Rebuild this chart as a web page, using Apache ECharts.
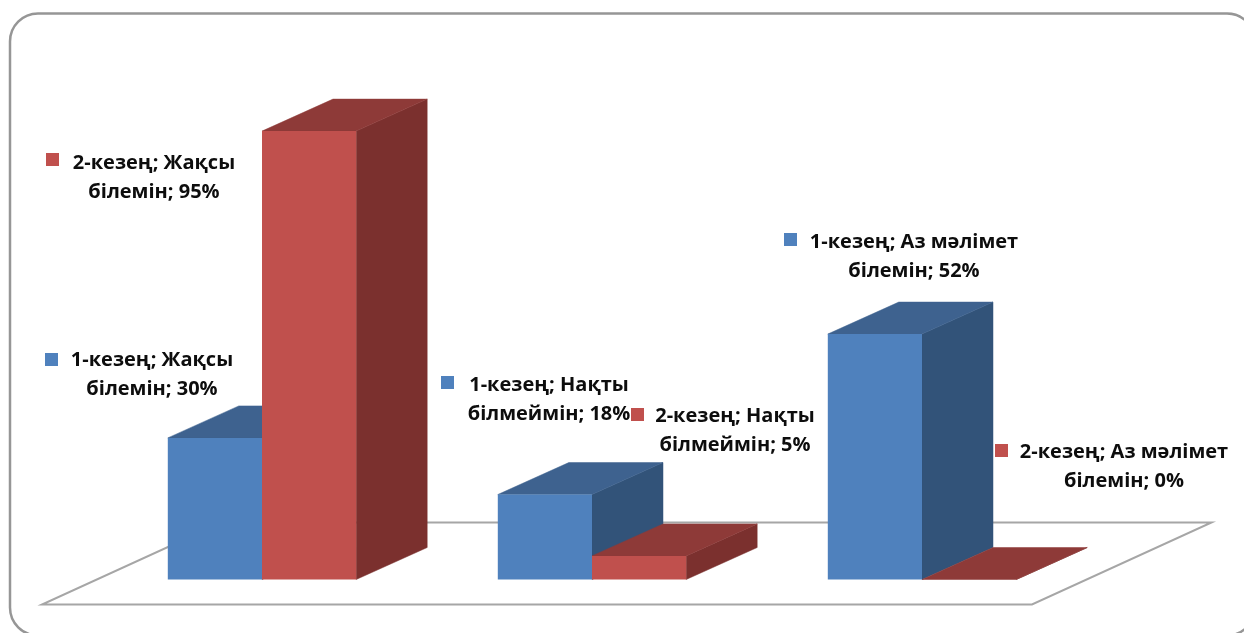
<!DOCTYPE html>
<html>
<head>
<meta charset="utf-8">
<style>html,body{margin:0;padding:0;background:#fff}#chart{width:1244px;height:633px}</style>
<script src="https://cdn.jsdelivr.net/npm/echarts@6/dist/echarts.min.js"></script>
</head>
<body>
<div id="chart"></div>
<script>
// Survey results for two stages, drawn as oblique 3D columns on a floor plane.
const categories = ['Жақсы білемін', 'Нақты білмеймін', 'Аз мәлімет білемін'];
const labelBreaks = ['Жақсы\nбілемін', 'Нақты\nбілмеймін', 'Аз мәлімет\nбілемін'];
const seriesNames = ['1-кезең', '2-кезең'];
const stageOne = [30, 18, 52];
const stageTwo = [95, 5, 0];

// Face colours per stage: front, top, side.
const stageColors = [
  { front: '#4F81BD', top: '#3E628F', side: '#325379' },
  { front: '#C0504D', top: '#8E3A38', side: '#7B302E' }
];
// Data-label placement per stage and category: marker left/top, text centre x, text middle y.
const stageLabelPlaces = [
  [[45, 353, 152, 375], [441, 376, 549, 400], [784, 233, 914, 257]],
  [[46, 153, 154, 178], [631, 408, 735, 431], [995, 444, 1124, 467]]
];
const labelFont = '700 20px "Open Sans", "Noto Sans", sans-serif';

const depthX = 71, depthY = -32;
const barShare = 94.2 / 330;
const floorOut = { x: -55, y: 25 };
const floorDepth = { x: 179.5, y: -82 };

function quad(points, fill) {
  return { type: 'polygon', shape: { points }, style: { fill, stroke: fill, lineWidth: 0.5 } };
}

function renderColumn(stage) {
  return function (params, api) {
    const i = api.value(0);
    const value = api.value(1);
    const top = api.coord([i, value]);
    const base = api.coord([i, 0]);
    const w = api.size([1, 0])[0] * barShare;
    const x0 = top[0] + (stage === 0 ? -w : 0);
    const x1 = x0 + w;
    const c = stageColors[stage];
    const children = [];
    children.push(quad([[x1, top[1]], [x1 + depthX, top[1] + depthY], [x1 + depthX, base[1] + depthY], [x1, base[1]]], c.side));
    children.push(quad([[x0, top[1]], [x0 + depthX, top[1] + depthY], [x1 + depthX, top[1] + depthY], [x1, top[1]]], c.top));
    if (value > 0) {
      children.push({ type: 'rect', shape: { x: x0, y: top[1], width: w, height: base[1] - top[1] }, style: { fill: c.front } });
    }
    return { type: 'group', children };
  };
}

function renderLabel(stage) {
  return function (params, api) {
    const i = api.value(0);
    const value = api.value(1);
    const place = stageLabelPlaces[stage][i];
    const parts = labelBreaks[i].split('\n');
    return {
      type: 'group',
      children: [
        {
          type: 'text',
          x: place[2], y: place[3],
          style: {
            text: seriesNames[stage] + '; ' + parts[0] + '\n' + parts[1] + '; ' + value + '%',
            font: labelFont, fill: '#0d0d0d', align: 'center', verticalAlign: 'middle', lineHeight: 29
          }
        },
        { type: 'rect', shape: { x: place[0], y: place[1], width: 13, height: 13 }, style: { fill: stageColors[stage].front } }
      ]
    };
  };
}

function renderFloor(params, api) {
  const a = api.coord([0, 0]);
  const size = api.size([1, 0])[0] * categories.length;
  const left = a[0] - size / (2 * categories.length) + floorOut.x;
  const y = a[1] + floorOut.y;
  return {
    type: 'polygon',
    shape: { points: [[left, y], [left + size, y], [left + size + floorDepth.x, y + floorDepth.y], [left + floorDepth.x, y + floorDepth.y]] },
    style: { fill: '#fff', stroke: '#a6a6a6', lineWidth: 2 }
  };
}

const chart = echarts.init(document.getElementById('chart'), null, { renderer: 'canvas' });
const rows = values => values.map((v, i) => [i, v]);
const customBase = { type: 'custom', clip: false, silent: true, encode: { x: 0, y: 1 } };

chart.setOption({
  animation: false,
  backgroundColor: '#fff',
  grid: { left: 97, top: 107.5, width: 990, height: 472 },
  xAxis: { type: 'category', data: categories, show: false },
  yAxis: { type: 'value', min: 0, max: 100, show: false },
  graphic: [{
    type: 'rect', z: -1, silent: true,
    shape: { x: 10, y: 13.5, width: 1245, height: 622, r: 28 },
    style: { fill: '#fff', stroke: '#969696', lineWidth: 2.5 }
  }],
  series: [
    { ...customBase, name: 'Еден', renderItem: renderFloor, data: [[0, 0]] },
    { ...customBase, name: seriesNames[0], renderItem: renderColumn(0), data: rows(stageOne) },
    { ...customBase, name: seriesNames[1], renderItem: renderColumn(1), data: rows(stageTwo) },
    { ...customBase, name: seriesNames[0] + ' белгі', renderItem: renderLabel(0), data: rows(stageOne) },
    { ...customBase, name: seriesNames[1] + ' белгі', renderItem: renderLabel(1), data: rows(stageTwo) }
  ]
});
</script>
</body>
</html>
